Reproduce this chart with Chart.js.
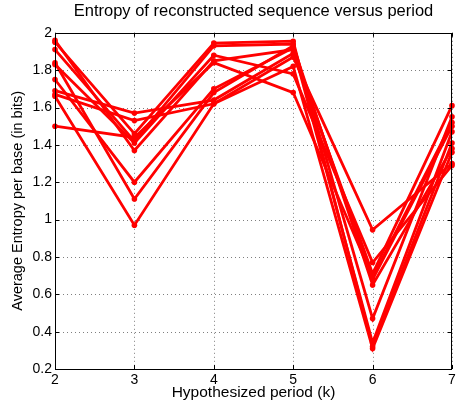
<!DOCTYPE html>
<html>
<head>
<meta charset="utf-8">
<script src="https://cdn.jsdelivr.net/npm/chart.js@4/dist/chart.umd.min.js"></script>
<style>
html,body{margin:0;padding:0;background:#fff;}
#wrap{width:456px;height:403px;position:relative;}
</style>
</head>
<body>
<div id="wrap"><canvas id="c" width="456" height="403"></canvas></div>
<script>
const periods = [2, 3, 4, 5, 6, 7];
const s1  = [1.96, 1.37, 1.85, 1.91, 0.68, 1.50];
const s2  = [1.95, 1.46, 1.945, 1.955, 0.32, 1.41];
const s3  = [1.91, 1.42, 1.93, 1.94, 0.47, 1.55];
const s4  = [1.84, 1.11, 1.68, 1.93, 0.65, 1.38];
const s5  = [1.83, 1.41, 1.88, 1.78, 0.77, 1.29];
const s6  = [1.75, 1.20, 1.70, 1.92, 0.34, 1.47];
const s7  = [1.69, 1.57, 1.64, 1.89, 0.71, 1.61];
const s8  = [1.67, 1.53, 1.62, 1.87, 0.945, 1.30];
const s9  = [1.66, 0.97, 1.62, 1.82, 0.31, 1.36];
const s10 = [1.50, 1.44, 1.84, 1.68, 0.69, 1.52];
const allSeries = [s1, s2, s3, s4, s5, s6, s7, s8, s9, s10];
const yTickValues = [0.2, 0.4, 0.6, 0.8, 1, 1.2, 1.4, 1.6, 1.8, 2];

const FONT = "'Liberation Sans', Arial, Helvetica, sans-serif";

const datasets = allSeries.map((s, i) => ({
  label: 'run ' + (i + 1),
  data: s.map((v, j) => ({x: periods[j], y: v})),
  borderColor: '#ff0000',
  backgroundColor: '#ff0000',
  borderWidth: 2.8,
  pointRadius: 2.8,
  pointBorderWidth: 0,
  pointBackgroundColor: '#ff0000',
  tension: 0,
  clip: false
}));

const gridPlugin = {
  id: 'gridPlugin',
  beforeDatasetsDraw(chart) {
    const {ctx, chartArea: a, scales: {x, y}} = chart;
    ctx.save();
    ctx.strokeStyle = 'rgba(0,0,0,0.5)';
    ctx.lineWidth = 1;
    ctx.setLineDash([1, 3]);
    ctx.beginPath();
    periods.forEach(p => {
      const px = Math.round(x.getPixelForValue(p)) + 0.5;
      ctx.moveTo(px, a.top); ctx.lineTo(px, a.bottom);
    });
    yTickValues.forEach(v => {
      const py = Math.round(y.getPixelForValue(v)) + 0.5;
      ctx.moveTo(a.left, py); ctx.lineTo(a.right, py);
    });
    ctx.stroke();
    ctx.restore();
  },
  afterDraw(chart) {
    const {ctx, chartArea: a, scales: {x, y}} = chart;
    ctx.save();
    ctx.setLineDash([]);
    ctx.strokeStyle = '#000';
    ctx.lineWidth = 1;
    ctx.beginPath();
    const L = 4;
    periods.forEach(p => {
      const px = Math.round(x.getPixelForValue(p)) + 0.5;
      ctx.moveTo(px, a.bottom); ctx.lineTo(px, a.bottom - L);
      ctx.moveTo(px, a.top); ctx.lineTo(px, a.top + L);
    });
    yTickValues.forEach(v => {
      const py = Math.round(y.getPixelForValue(v)) + 0.5;
      ctx.moveTo(a.left, py); ctx.lineTo(a.left + L, py);
      ctx.moveTo(a.right, py); ctx.lineTo(a.right - L, py);
    });
    const l = Math.round(a.left) + 0.5, t = Math.round(a.top) + 0.5;
    const r = Math.round(a.right) - 0.5, b = Math.round(a.bottom) + 0.5;
    ctx.moveTo(l, t); ctx.lineTo(r, t); ctx.lineTo(r, b); ctx.lineTo(l, b); ctx.closePath();
    ctx.stroke();
    ctx.restore();
  }
};

new Chart(document.getElementById('c'), {
  type: 'line',
  data: {datasets},
  plugins: [gridPlugin],
  options: {
    responsive: false,
    animation: false,
    layout: {padding: {left: 0, right: 1, top: 0, bottom: 0}},
    plugins: {
      legend: {display: false},
      tooltip: {enabled: false},
      title: {
        display: true,
        fullSize: false,
        text: 'Entropy of reconstructed sequence versus period',
        color: '#000',
        font: {family: FONT, size: 16.5, weight: 'normal'},
        padding: {top: 2, bottom: 11}
      }
    },
    scales: {
      x: {
        type: 'linear',
        min: 2, max: 7,
        afterBuildTicks: s => { s.ticks = periods.map(v => ({value: v})); },
        ticks: {color: '#000', font: {family: FONT, size: 14}, padding: 3,
                callback: v => String(v), maxRotation: 0, autoSkip: false},
        grid: {display: false, drawTicks: false},
        border: {display: false},
        title: {display: true, text: 'Hypothesized period (k)', color: '#000',
                font: {family: FONT, size: 15.5}, padding: {top: 0, bottom: 1}},
        afterFit: s => { s.height = 34; s.paddingLeft = 0; s.paddingRight = 0; }
      },
      y: {
        type: 'linear',
        min: 0.2, max: 2,
        afterBuildTicks: s => { s.ticks = yTickValues.map(v => ({value: v})); },
        ticks: {color: '#000', font: {family: FONT, size: 14}, padding: 3,
                callback: v => String(+v.toFixed(1))},
        grid: {display: false, drawTicks: false},
        border: {display: false},
        title: {display: true, text: 'Average Entropy per base (in bits)', color: '#000',
                font: {family: FONT, size: 14.5}, padding: {top: 9, bottom: 0}},
        afterFit: s => { s.width = 55; s.paddingTop = 0; s.paddingBottom = 0; }
      }
    }
  }
});
</script>
</body>
</html>
